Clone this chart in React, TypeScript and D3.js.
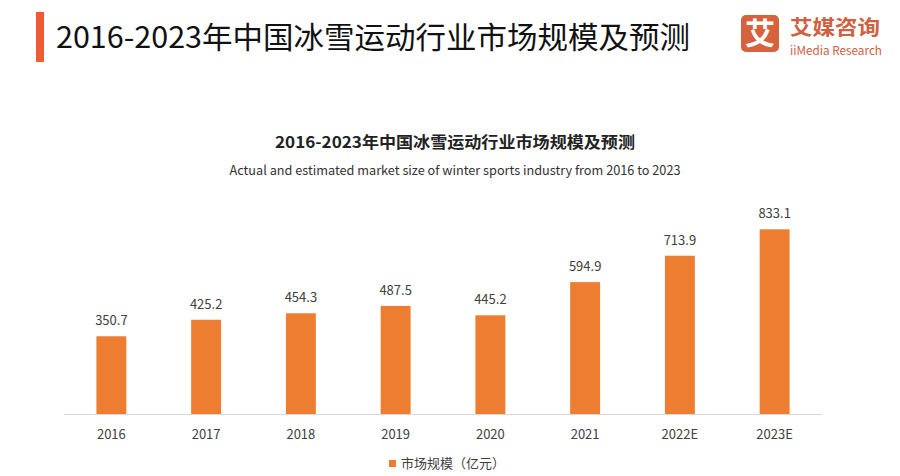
import React from "react";
import * as d3 from "d3";

const categories = ["2016", "2017", "2018", "2019", "2020", "2021", "2022E", "2023E"];
const values = [350.7, 425.2, 454.3, 487.5, 445.2, 594.9, 713.9, 833.1];
const seriesName = "市场规模（亿元）";
const pageTitle = "2016-2023年中国冰雪运动行业市场规模及预测";
const chartTitle = "2016-2023年中国冰雪运动行业市场规模及预测";
const chartSubtitle = "Actual and estimated market size of winter sports industry from 2016 to 2023";

const W = 900;
const H = 476;
const FONT = "'Noto Sans CJK SC', 'Noto Sans', sans-serif";

export default function App() {
  const baseY = 414;
  const x = d3.scaleBand<string>().domain(categories).range([64, 822]).paddingInner(0.684).paddingOuter(0.342);
  const y = d3.scaleLinear().domain([0, 833.1]).range([baseY, 229.3]);

  return (
    <svg width={W} height={H} style={{ position: "fixed", left: 0, top: 0, background: "#fff" }}>
      <rect x={0} y={0} width={W} height={H} fill="#fff" />
      {/* header */}
      <rect x={36} y={12} width={8} height={50} fill="#f05b35" />
      <text x={56} y={48} fontFamily={FONT} fontSize={30} fontWeight={400} fill="#111" textLength={634} lengthAdjust="spacingAndGlyphs">
        {pageTitle}
      </text>
      {/* logo */}
      <rect x={741} y={15} width={38} height={37} rx={5} fill="#d6623e" />
      <text x={760} y={44} textAnchor="middle" fontFamily={FONT} fontSize={30} fontWeight={700} fill="#fff">艾</text>
      <text x={790} y={35} fontFamily={FONT} fontSize={20} fontWeight={700} fill="#d0603f" textLength={90} lengthAdjust="spacingAndGlyphs">艾媒咨询</text>
      <text x={790} y={55} fontFamily={FONT} fontSize={12} fill="#d0603f" textLength={92} lengthAdjust="spacingAndGlyphs">iiMedia Research</text>

      {/* chart titles */}
      <text x={455} y={148} textAnchor="middle" fontFamily={FONT} fontSize={16} fontWeight={700} fill="#222" textLength={360} lengthAdjust="spacingAndGlyphs">
        {chartTitle}
      </text>
      <text x={455} y={175} textAnchor="middle" fontFamily={FONT} fontSize={13} fill="#333" textLength={451} lengthAdjust="spacingAndGlyphs">
        {chartSubtitle}
      </text>

      {/* bars */}
      {categories.map((c, i) => (
        <g key={c}>
          <rect x={x(c)!} y={y(values[i])} width={x.bandwidth()} height={baseY - y(values[i])} fill="#ed7d31" />
          <text x={x(c)! + x.bandwidth() / 2} y={y(values[i]) - 11} textAnchor="middle" fontFamily={FONT} fontSize={13} fill="#404040">
            {values[i].toFixed(1)}
          </text>
          <text x={x(c)! + x.bandwidth() / 2} y={439} textAnchor="middle" fontFamily={FONT} fontSize={13} fill="#404040">
            {c}
          </text>
        </g>
      ))}
      <line x1={64} x2={822} y1={baseY + 0.5} y2={baseY + 0.5} stroke="#d9d9d9" strokeWidth={1} />

      {/* legend */}
      <rect x={389} y={460} width={7} height={7} fill="#ed7d31" />
      <text x={401} y={468} fontFamily={FONT} fontSize={13} fill="#404040">{seriesName}</text>
    </svg>
  );
}
